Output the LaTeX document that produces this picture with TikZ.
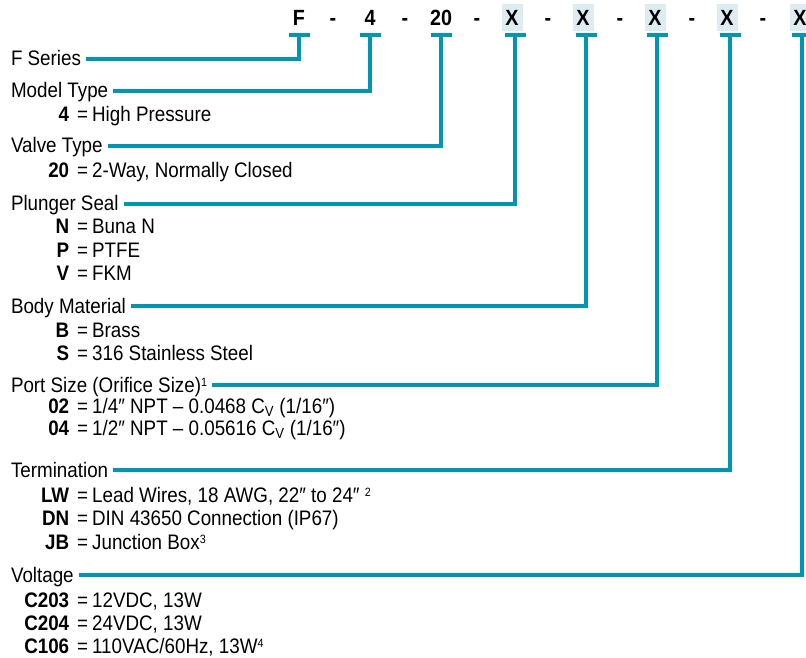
\documentclass[tikz,border=0pt]{standalone}
\usepackage{fontspec}
\setmainfont{Liberation Sans}[FakeStretch=0.895]
\definecolor{teal0}{RGB}{0,150,178}
\definecolor{boxblue}{RGB}{221,236,240}
\newcommand{\itm}[2]{\makebox[59pt][r]{\bfseries #1}\hspace{8pt}=\hspace{4pt}#2}
\newcommand{\supr}[1]{\raisebox{5.5pt}{\fontsize{12}{12}\selectfont #1}}
\begin{document}
\begin{tikzpicture}[x=1pt,y=-1pt,
  conn/.style={line width=3.8pt, draw=teal0, line join=miter},
  tbar/.style={line width=3.8pt, draw=teal0, line cap=butt},
  lab/.style={anchor=base west, inner ysep=0pt, inner xsep=0pt, outer xsep=5pt, outer ysep=0pt,
              text height=14.5pt, text depth=0pt, font=\fontsize{21}{24}\selectfont},
  itm/.style={anchor=base west, inner sep=0pt, font=\fontsize{21}{24}\selectfont},
  code/.style={anchor=base, inner sep=0pt, font=\fontsize{22}{26}\selectfont\bfseries},
  xbox/.style={fill=boxblue, minimum width=21pt, minimum height=27pt, inner sep=0pt,
               font=\fontsize{22}{26}\selectfont\bfseries}]
\useasboundingbox (0,0) rectangle (806,658);

% top code row
\node[code] (cF) at (299,26) {F};
\node[code] (d1) at (333,26) {-};
\node[code] (c4) at (370,26) {4};
\node[code] (d2) at (405,26) {-};
\node[code] (c20) at (441,26) {20};
\node[code] (d3) at (477,26) {-};
\node[xbox] (x1) at (512,17.5) {X};
\node[code] (d4) at (548,26) {-};
\node[xbox] (x2) at (583,17.5) {X};
\node[code] (d5) at (620,26) {-};
\node[xbox] (x3) at (655,17.5) {X};
\node[code] (d6) at (692,26) {-};
\node[xbox] (x4) at (727,17.5) {X};
\node[code] (d7) at (763,26) {-};
\node[xbox] (x5) at (800,17.5) {X};

% tee points
\coordinate (tF) at (299,35);
\coordinate (tM) at (370,35);
\coordinate (tV) at (441,35);
\coordinate (tP) at (515,35);
\coordinate (tB) at (586,35);
\coordinate (tS) at (657,35);
\coordinate (tT) at (730,35);
\coordinate (tVo) at (802,35);
\foreach \t in {tF,tM,tV,tP,tB,tS,tT,tVo}{
  \draw[tbar] ([xshift=-10.5pt]\t) -- ([xshift=10.5pt]\t);
}

% labels
\node[lab] (lF) at (6,66) {F Series};
\node[lab] (lM) at (6,98) {Model Type};
\node[lab] (lV) at (6,153) {Valve Type};
\node[lab] (lP) at (6,211) {Plunger Seal};
\node[lab] (lB) at (6,313) {Body Material};
\node[lab] (lS) at (6,392) {Port Size (Orifice Size)\supr{1}};
\node[lab] (lT) at (6,477) {Termination};
\node[lab] (lVo) at (6,582) {Voltage};

% connectors
\draw[conn] (lF.east) -| (tF);
\draw[conn] (lM.east) -| (tM);
\draw[conn] (lV.east) -| (tV);
\draw[conn] (lP.east) -| (tP);
\draw[conn] (lB.east) -| (tB);
\draw[conn] (lS.east) -| (tS);
\draw[conn] (lT.east) -| (tT);
\draw[conn] (lVo.east) -| (tVo);

% items
\node[itm] (i4) at (10,122) {\itm{4}{High Pressure}};
\node[itm] (i20) at (10,177) {\itm{20}{2-Way, Normally Closed}};
\node[itm] (iN) at (10,233) {\itm{N}{Buna N}};
\node[itm] (iP) at (10,257) {\itm{P}{PTFE}};
\node[itm] (iV) at (10,280) {\itm{V}{FKM}};
\node[itm] (iB) at (10,337) {\itm{B}{Brass}};
\node[itm] (iS) at (10,360) {\itm{S}{316 Stainless Steel}};
\node[itm] (i02) at (10,413) {\itm{02}{1/4″ NPT – 0.0468 C\textsubscript{V} (1/16″)}};
\node[itm] (i04) at (10,435) {\itm{04}{1/2″ NPT – 0.05616 C\textsubscript{V} (1/16″)}};
\node[itm] (iLW) at (10,502) {\itm{LW}{Lead Wires, 18 AWG, 22″ to 24″ \supr{2}}};
\node[itm] (iDN) at (10,525) {\itm{DN}{DIN 43650 Connection (IP67)}};
\node[itm] (iJB) at (10,549) {\itm{JB}{Junction Box\supr{3}}};
\node[itm] (iC203) at (10,607) {\itm{C203}{12VDC, 13W}};
\node[itm] (iC204) at (10,630) {\itm{C204}{24VDC, 13W}};
\node[itm] (iC106) at (10,653) {\itm{C106}{110VAC/60Hz, 13W\supr{4}}};
\end{tikzpicture}
\end{document}
